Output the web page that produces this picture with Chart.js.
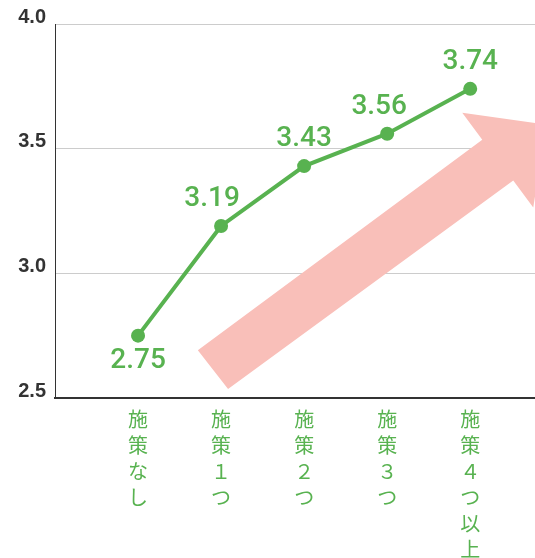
<!DOCTYPE html>
<html>
<head>
<meta charset="utf-8">
<script src="https://cdn.jsdelivr.net/npm/chart.js@4.4.1/dist/chart.umd.min.js"></script>
<style>
  html, body { margin: 0; padding: 0; background: #fff; }
  #wrap { width: 535px; height: 558px; }
</style>
</head>
<body>
<div id="wrap"><canvas id="chart"></canvas></div>
<script>
const categories = ["施策なし", "施策１つ", "施策２つ", "施策３つ", "施策４つ以上"];
const scores = [2.75, 3.19, 3.43, 3.56, 3.74];
const yTicks = [2.5, 3.0, 3.5, 4.0];

const green = "#58b250";
const pink = "#f9bfb9";

// big pink arrow behind the line, in axis units (x = category slot, y = score)
const arrowPlugin = {
  id: "arrow",
  beforeDatasetsDraw(chart) {
    const { ctx, scales } = chart;
    const pts = [
      [1.72, 2.692], [5.145, 3.536], [4.904, 3.644], [5.916, 3.596],
      [5.759, 3.264], [5.518, 3.372], [2.084, 2.536]
    ];
    ctx.save();
    ctx.fillStyle = pink;
    ctx.beginPath();
    pts.forEach((p, i) => {
      const x = scales.x.getPixelForValue(p[0]);
      const y = scales.y.getPixelForValue(p[1]);
      if (i === 0) ctx.moveTo(x, y); else ctx.lineTo(x, y);
    });
    ctx.closePath();
    ctx.fill();
    ctx.restore();
  }
};

// value labels over / under the points
const valueLabels = {
  id: "valueLabels",
  afterDatasetsDraw(chart) {
    const { ctx } = chart;
    const meta = chart.getDatasetMeta(0);
    const shiftX = [0, -9, 0, -8, 0];
    ctx.save();
    ctx.font = "500 28px Roboto";
    ctx.fillStyle = green;
    ctx.textAlign = "center";
    ctx.textBaseline = "middle";
    meta.data.forEach((pt, i) => {
      const dy = i === 0 ? 25 : -27;
      ctx.fillText(scores[i].toFixed(2), pt.x + shiftX[i], pt.y + dy);
    });
    ctx.restore();
  }
};

new Chart(document.getElementById("chart"), {
  type: "line",
  data: {
    datasets: [{
      data: scores.map((v, i) => ({ x: i + 1, y: v })),
      borderColor: green,
      backgroundColor: green,
      borderWidth: 4,
      pointRadius: 7,
      pointHoverRadius: 7,
      pointBackgroundColor: green,
      pointBorderWidth: 0,
      tension: 0
    }]
  },
  options: {
    responsive: true,
    maintainAspectRatio: false,
    animation: false,
    layout: { autoPadding: false, padding: { top: 24, left: 0, right: 0, bottom: 0 } },
    plugins: { legend: { display: false }, tooltip: { enabled: false } },
    scales: {
      x: {
        type: "linear",
        min: 0,
        max: 5.78,
        afterBuildTicks(axis) {
          axis.ticks = categories.map((c, i) => ({ value: i + 1 }));
        },
        afterFit(axis) { axis.height = 160; },
        grid: { display: false, drawTicks: false },
        border: { display: true, color: "#333", width: 2 },
        ticks: {
          autoSkip: false,
          maxRotation: 0,
          padding: 8,
          color: green,
          font: { family: "'Noto Sans CJK JP'", size: 20, lineHeight: 1.3 },
          callback(value) {
            const c = categories[Math.round(value) - 1];
            return c ? Array.from(c) : "";
          }
        }
      },
      y: {
        min: 2.5,
        max: 4.0,
        afterBuildTicks(axis) {
          axis.ticks = yTicks.map(v => ({ value: v }));
        },
        afterFit(axis) { axis.width = 55; },
        grid: { color: "#cccccc", lineWidth: 1, drawTicks: false },
        border: { display: true, color: "#333", width: 1 },
        ticks: {
          padding: 9,
          labelOffset: -7,
          color: "#333",
          font: { family: "'Liberation Sans', Arial", size: 20, weight: "bold" },
          callback: v => v.toFixed(1)
        }
      }
    }
  },
  plugins: [arrowPlugin, valueLabels]
});
</script>
</body>
</html>
